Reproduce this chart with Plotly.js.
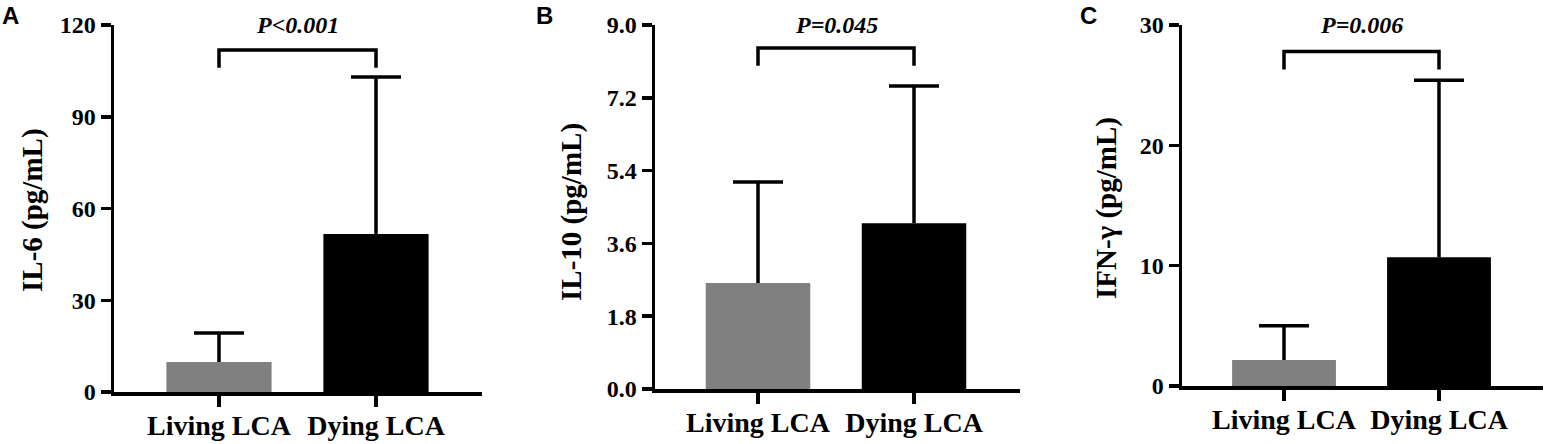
<!DOCTYPE html>
<html>
<head>
<meta charset="utf-8">
<script src="https://cdn.plot.ly/plotly-3.0.1.min.js"></script>
<style>
html,body{margin:0;padding:0;background:#fff;}
#chart{width:1549px;height:444px;}
</style>
</head>
<body>
<div id="chart"></div>
<script>
// ---- data ----
const categories = ['Living LCA', 'Dying LCA'];
const il6Mean = [9.8, 51.7];
const il6SD = [9.5, 51.3];
const il10Mean = [2.62, 4.10];
const il10SD = [2.50, 3.39];
const ifnMean = [2.16, 10.7];
const ifnSD = [2.84, 14.7];
const il6Ticks = [0, 30, 60, 90, 120];
const il10Ticks = [0, 1.8, 3.6, 5.4, 7.2, 9.0];
const ifnTicks = [0, 10, 20, 30];
const pLabels = ['P<0.001', 'P=0.045', 'P=0.006'];
const bracketTop = [111.8, 8.43, 27.8];
const bracketLeg = [106, 7.99, 26.3];
const panelLetters = ['A', 'B', 'C'];
const yTitles = ['IL-6 (pg/mL)', 'IL-10 (pg/mL)', 'IFN-γ (pg/mL)'];
const barColors = ['#808080', '#000000'];

// ---- layout geometry (pixels) ----
const W = 1549, H = 444;
const SERIF = 'Liberation Serif, Times New Roman, serif';
const SANS = 'Liberation Sans, Arial, sans-serif';
const CAP_HALF_PX = 25;
const panels = [
  {mean: il6Mean, sd: il6SD, ticks: il6Ticks, fmt: '', x0: 114, x1: 482, cat0: 219, step: 157, yb: 392, yt: 25, titleX: 32, titleY: 210, letterX: 0},
  {mean: il10Mean, sd: il10SD, ticks: il10Ticks, fmt: '.1f', x0: 655, x1: 1020, cat0: 758, step: 156, yb: 389, yt: 25, titleX: 571, titleY: 212, letterX: 534},
  {mean: ifnMean, sd: ifnSD, ticks: ifnTicks, fmt: '', x0: 1182, x1: 1543, cat0: 1284, step: 155, yb: 386, yt: 25, titleX: 1106, titleY: 208, letterX: 1078}
];

const traces = [];
const layout = {
  width: W, height: H,
  margin: {l: 0, r: 0, t: 0, b: 0},
  paper_bgcolor: '#fff', plot_bgcolor: '#fff',
  showlegend: false,
  annotations: [],
  font: {family: SERIF, color: '#000'}
};

panels.forEach((p, i) => {
  const n = i === 0 ? '' : String(i + 1);
  const xa = 'x' + n, ya = 'y' + n;
  const xs = categories.map((_, k) => k);
  traces.push({
    type: 'bar', x: xs, y: p.mean, xaxis: xa, yaxis: ya,
    width: 0.67,
    marker: {color: barColors, line: {width: 0}},
    hoverinfo: 'none'
  });
  // upward-only SD error bars: stem + top cap
  const capHalf = CAP_HALF_PX / p.step;
  const ex = [], ey = [];
  xs.forEach((k, j) => {
    const top = p.mean[j] + p.sd[j];
    ex.push(k, k, null, k - capHalf, k + capHalf, null);
    ey.push(p.mean[j], top, null, top, top, null);
  });
  traces.push({
    type: 'scatter', mode: 'lines', xaxis: xa, yaxis: ya,
    x: ex, y: ey, connectgaps: false,
    line: {color: '#000', width: 3.5}, cliponaxis: false, hoverinfo: 'none'
  });
  // significance bracket
  traces.push({
    type: 'scatter', mode: 'lines', xaxis: xa, yaxis: ya,
    x: [xs[0], xs[0], xs[1], xs[1]],
    y: [bracketLeg[i], bracketTop[i], bracketTop[i], bracketLeg[i]],
    line: {color: '#000', width: 3.5}, cliponaxis: false, hoverinfo: 'none'
  });
  const r0 = -(p.cat0 - p.x0) / p.step;
  const r1 = r0 + (p.x1 - p.x0) / p.step;
  const ymax = p.ticks[p.ticks.length - 1];
  layout['xaxis' + n] = {
    domain: [p.x0 / W, p.x1 / W], anchor: ya, range: [r0, r1],
    tickvals: xs, ticktext: categories,
    showline: true, linecolor: '#000', linewidth: 3.5,
    ticks: 'outside', ticklen: 11, tickwidth: 3.5, tickcolor: '#000',
    ticklabelstandoff: -5,
    tickfont: {family: SERIF, size: 28, weight: 'bold', color: '#000'},
    showgrid: false, zeroline: false, fixedrange: true
  };
  layout['yaxis' + n] = {
    domain: [1 - p.yb / H, 1 - p.yt / H], anchor: xa, range: [0, ymax],
    tickvals: p.ticks, tickformat: p.fmt,
    showline: true, linecolor: '#000', linewidth: 3.5,
    ticks: 'outside', ticklen: 10, tickwidth: 3.5, tickcolor: '#000',
    tickfont: {family: SERIF, size: 24, weight: 'bold', color: '#000'},
    showgrid: false, zeroline: false, fixedrange: true
  };
  layout.annotations.push({
    xref: xa, yref: ya, x: 0.5, y: ymax, yanchor: 'middle', xanchor: 'center',
    text: pLabels[i], showarrow: false,
    font: {family: SERIF, size: 24, weight: 'bold', style: 'italic', color: '#000'}
  });
  layout.annotations.push({
    xref: 'paper', yref: 'paper', x: p.titleX / W, y: 1 - p.titleY / H,
    xanchor: 'center', yanchor: 'middle', textangle: -90,
    text: yTitles[i], showarrow: false,
    font: {family: SERIF, size: 29, weight: 'bold', color: '#000'}
  });
  layout.annotations.push({
    xref: 'paper', yref: 'paper', x: p.letterX / W, y: 1 - 16 / H,
    xanchor: 'left', yanchor: 'middle',
    text: panelLetters[i], showarrow: false,
    font: {family: SANS, size: 24, weight: 'bold', color: '#000'}
  });
});

Plotly.newPlot('chart', traces, layout, {displayModeBar: false, staticPlot: true});
</script>
</body>
</html>
